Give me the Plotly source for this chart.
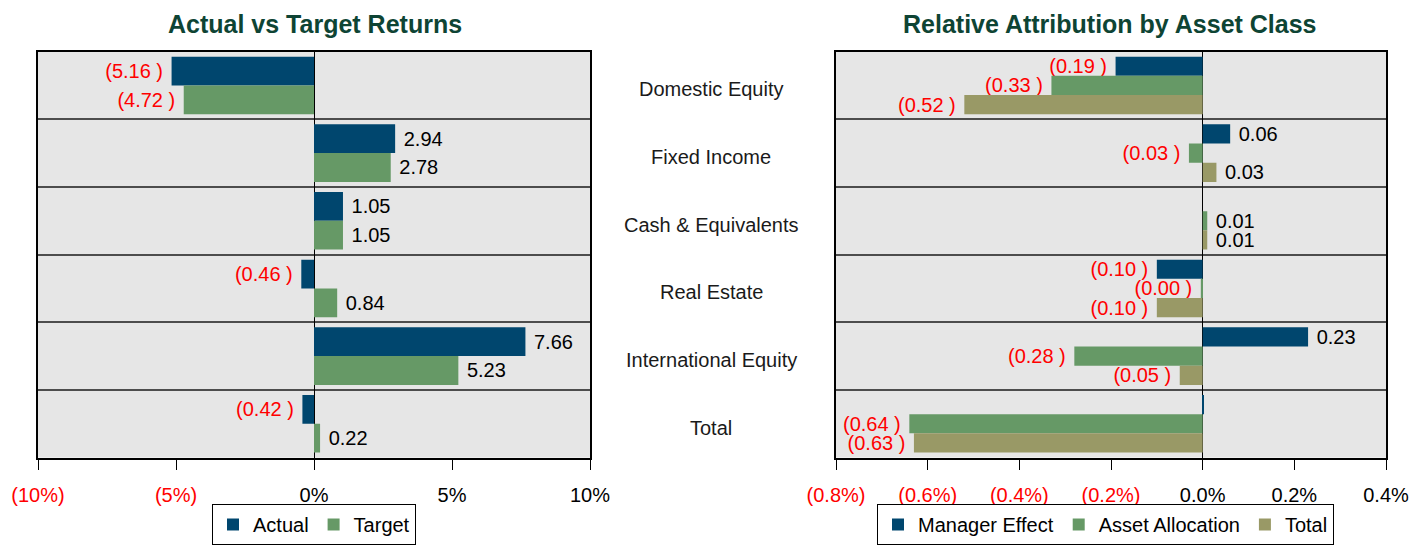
import plotly.graph_objects as go
from plotly.subplots import make_subplots

categories = ["Domestic Equity", "Fixed Income", "Cash & Equivalents",
              "Real Estate", "International Equity", "Total"]

actual = [-5.16, 2.94, 1.05, -0.46, 7.66, -0.42]
target = [-4.72, 2.78, 1.05, 0.84, 5.23, 0.22]

manager_effect = [-0.19, 0.06, 0.0, -0.10, 0.23, 0.002]
asset_allocation = [-0.33, -0.03, 0.01, -0.004, -0.28, -0.64]
total_effect = [-0.52, 0.03, 0.01, -0.10, -0.05, -0.63]

left_ticks = [-10, -5, 0, 5, 10]
right_ticks = [-0.8, -0.6, -0.4, -0.2, 0.0, 0.2, 0.4]

C_BLUE = "#00466E"
C_GREEN = "#669966"
C_OLIVE = "#999966"
RED = "#FF0000"
FONT = "Liberation Sans, Arial, sans-serif"
NB = "\u00a0"
TXT = 20


def label(v):
    if 0 <= v < 0.005:
        return ""
    if v < 0:
        return f"({abs(v):.2f} ){NB}"
    return f"{NB}{v:.2f}"


def colors(vals):
    return [RED if v < 0 else "#000000" for v in vals]


def tick_text(v, pct_fmt):
    s = pct_fmt.format(abs(v))
    if v < 0:
        return f'<span style="color:{RED}">({s}%)</span>'
    return f"{s}%"


fig = make_subplots(rows=1, cols=2, horizontal_spacing=0.1)


def add_bar(vals, name, color, col, legend):
    fig.add_trace(go.Bar(
        y=categories, x=vals, name=name, orientation="h",
        marker=dict(color=color, line=dict(width=0)),
        text=[label(v) for v in vals], textposition="outside",
        textfont=dict(color=colors(vals), size=TXT, family=FONT),
        constraintext="none", cliponaxis=False, legend=legend,
        hoverinfo="x+name",
    ), row=1, col=col)


add_bar(actual, "Actual", C_BLUE, 1, "legend")
add_bar(target, "Target", C_GREEN, 1, "legend")
add_bar(manager_effect, "Manager Effect", C_BLUE, 2, "legend2")
add_bar(asset_allocation, "Asset Allocation", C_GREEN, 2, "legend2")
add_bar(total_effect, "Total", C_OLIVE, 2, "legend2")

W, H = 1410, 545
ydom = [1 - 461 / H, 1 - 52 / H]

xcommon = dict(showgrid=False, zeroline=True, zerolinecolor="#000000", zerolinewidth=1,
               showline=True, linecolor="#000000", linewidth=1.5, mirror=True,
               ticks="outside", ticklen=11, tickcolor="#000000", tickwidth=1,
               ticklabelstandoff=8, automargin=False,
               tickfont=dict(size=TXT, family=FONT, color="#000000"))
ycommon = dict(type="category", autorange="reversed", tickson="boundaries",
               showgrid=True, gridcolor="#4d4d4d", gridwidth=1.5,
               showticklabels=False, ticks="", showline=True, linecolor="#000000",
               linewidth=1.5, mirror=True, automargin=False, domain=ydom)

fig.update_xaxes(row=1, col=1, domain=[38 / W, 590 / W], range=[-10, 10],
                 tickvals=left_ticks,
                 ticktext=[tick_text(v, "{:.0f}") for v in left_ticks], **xcommon)
fig.update_xaxes(row=1, col=2, domain=[836 / W, 1386 / W], range=[-0.8, 0.4],
                 tickvals=right_ticks,
                 ticktext=[tick_text(v, "{:.1f}") for v in right_ticks], **xcommon)
fig.update_yaxes(row=1, col=1, **ycommon)
fig.update_yaxes(row=1, col=2, **ycommon)

annotations = [
    dict(text="<b>Actual vs Target Returns</b>", x=315 / W, y=1 - 24 / H,
         xref="paper", yref="paper", showarrow=False, xanchor="center", yanchor="middle",
         font=dict(size=25, family=FONT, color="#0E4434")),
    dict(text="<b>Relative Attribution by Asset Class</b>", x=1110 / W, y=1 - 24 / H,
         xref="paper", yref="paper", showarrow=False, xanchor="center", yanchor="middle",
         font=dict(size=25, family=FONT, color="#0E4434")),
]
for c in categories:
    annotations.append(dict(text=c, x=711 / W, y=c, xref="paper", yref="y2",
                            showarrow=False, xanchor="center", yanchor="middle", yshift=-4,
                            font=dict(size=TXT, family=FONT, color="#1a1a1a")))

legend_style = dict(orientation="h", yanchor="top", y=1 - 508 / H, xanchor="left",
                    bordercolor="#000000", borderwidth=1, bgcolor="#ffffff",
                    font=dict(size=TXT, family=FONT, color="#000000"),
                    traceorder="normal", itemclick=False, itemdoubleclick=False)

fig.update_layout(
    width=W, height=H, margin=dict(l=0, r=0, t=0, b=0),
    paper_bgcolor="#ffffff", plot_bgcolor="#e6e6e6",
    barmode="group", bargap=0.15, bargroupgap=0,
    font=dict(family=FONT, size=TXT, color="#000000"),
    annotations=annotations, showlegend=True,
    legend=dict(x=212 / W, **legend_style),
    legend2=dict(x=877 / W, **legend_style),
)

fig.write_html("out.html", config={"displayModeBar": False},
               post_script="document.body.style.margin='0';document.body.style.overflow='hidden';")
